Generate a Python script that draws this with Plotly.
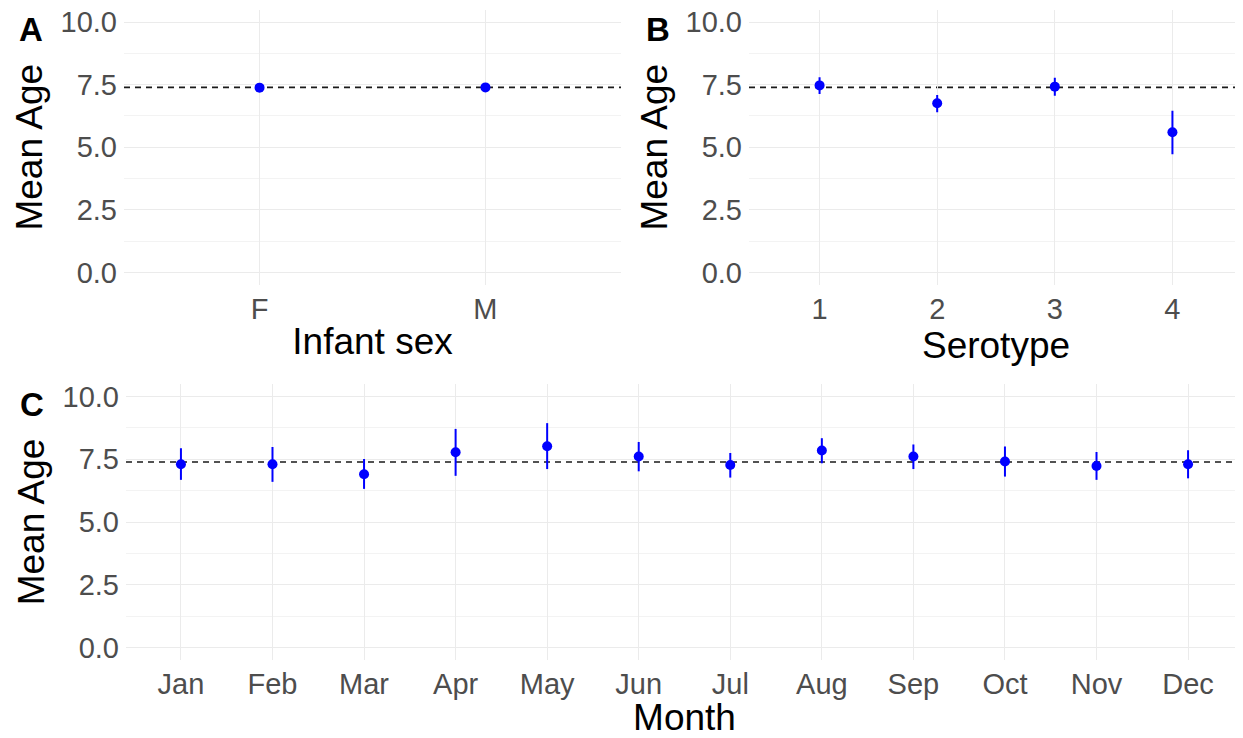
import plotly.graph_objects as go

# overall mean age (dashed reference line)
overall_mean = 7.39

# panel A: infant sex
sex_labels = ['F', 'M']
sex_mean = [7.38, 7.39]
sex_low = [7.34, 7.35]
sex_high = [7.42, 7.43]

# panel B: serotype
sero_labels = ['1', '2', '3', '4']
sero_mean = [7.47, 6.76, 7.42, 5.60]
sero_low = [7.13, 6.40, 7.06, 4.72]
sero_high = [7.79, 7.09, 7.77, 6.46]

# panel C: month
month_labels = ['Jan', 'Feb', 'Mar', 'Apr', 'May', 'Jun',
                'Jul', 'Aug', 'Sep', 'Oct', 'Nov', 'Dec']
month_mean = [7.30, 7.30, 6.90, 7.78, 8.02, 7.61, 7.27, 7.85, 7.61, 7.41, 7.23, 7.30]
month_low = [6.68, 6.60, 6.32, 6.84, 7.11, 7.02, 6.77, 7.34, 7.11, 6.81, 6.68, 6.74]
month_high = [7.94, 7.99, 7.51, 8.71, 8.94, 8.19, 7.75, 8.34, 8.09, 8.01, 7.79, 7.86]

FONT = 'Liberation Sans, Arial, sans-serif'
# page body has an 8px margin, so the figure is drawn 8px in from the corner
OFF = 8
W, H = 1243 - OFF, 738 - OFF

panels = [
    ('x', 'y', sex_labels, sex_mean, sex_low, sex_high),
    ('x2', 'y2', sero_labels, sero_mean, sero_low, sero_high),
    ('x3', 'y3', month_labels, month_mean, month_low, month_high),
]

fig = go.Figure()
for xa, ya, labels, mean, low, high in panels:
    fig.add_trace(go.Scatter(
        x=labels, y=mean, xaxis=xa, yaxis=ya, mode='markers',
        marker=dict(color='#0000FF', size=10),
        error_y=dict(type='data', symmetric=False,
                     array=[h - m for h, m in zip(high, mean)],
                     arrayminus=[m - l for m, l in zip(mean, low)],
                     color='#0000FF', thickness=2, width=0),
        showlegend=False, hoverinfo='skip',
    ))
    # dashed overall mean
    fig.add_shape(type='line', xref=f'{xa} domain', yref=ya,
                  x0=0, x1=1, y0=overall_mean, y1=overall_mean,
                  line=dict(color='#1A1A1A', width=1.6, dash='6px,5px'), layer='below')


def px_x(a, b):
    return [max(a - OFF, 0) / W, min(b - OFF, W) / W]


def px_y(top, bottom):
    return [1 - min(bottom - OFF, H) / H, 1 - max(top - OFF, 0) / H]


tickfont = dict(family=FONT, size=29, color='#4D4D4D')
titlefont = dict(family=FONT, size=37, color='black')

xcommon = dict(type='category', showgrid=True, gridcolor='#EBEBEB', gridwidth=1.2,
               zeroline=False, showline=False, ticks='', tickfont=tickfont,
               ticklabelstandoff=4, ticklabeloverflow='allow', automargin=False)
ycommon = dict(range=[-0.5, 10.5], tickvals=[0, 2.5, 5, 7.5, 10],
               ticktext=['0.0', '2.5', '5.0', '7.5', '10.0'],
               showgrid=True, gridcolor='#EBEBEB', gridwidth=1.2,
               minor=dict(tickvals=[1.25, 3.75, 6.25, 8.75], showgrid=True,
                          gridcolor='#F3F3F3', gridwidth=0.8),
               zeroline=False, showline=False, ticks='', tickfont=tickfont,
               ticklabelstandoff=6, ticklabeloverflow='allow', automargin=False)

fig.update_layout(
    width=W, height=H,
    margin=dict(l=0, r=0, t=0, b=0, autoexpand=False),
    paper_bgcolor='white', plot_bgcolor='white',
    xaxis=dict(xcommon, domain=px_x(124, 621), anchor='y',
               range=[-0.6, len(sex_labels) - 0.4],
               title=dict(text='Infant sex', font=titlefont, standoff=4)),
    yaxis=dict(ycommon, domain=px_y(9.5, 285), anchor='x',
               title=dict(text='Mean Age', font=titlefont, standoff=6)),
    xaxis2=dict(xcommon, domain=px_x(749, 1243), anchor='y2',
                range=[-0.6, len(sero_labels) - 0.4],
                title=dict(text='Serotype', font=titlefont, standoff=4)),
    yaxis2=dict(ycommon, domain=px_y(9.5, 285), anchor='x2',
                title=dict(text='Mean Age', font=titlefont, standoff=6)),
    xaxis3=dict(xcommon, domain=px_x(126, 1243), anchor='y3',
                range=[-0.6, len(month_labels) - 0.4],
                title=dict(text='Month', font=titlefont, standoff=0)),
    yaxis3=dict(ycommon, domain=px_y(384, 660), anchor='x3',
                title=dict(text='Mean Age', font=titlefont, standoff=6)),
)

# panel tags
for tag, x, y in [('A', 31, 30), ('B', 658, 30), ('C', 32, 404)]:
    fig.add_annotation(text=f'<b>{tag}</b>', x=(x - OFF) / W, y=1 - (y - OFF) / H,
                       xref='paper', yref='paper', showarrow=False,
                       xanchor='center', yanchor='middle',
                       font=dict(family=FONT, size=33, color='black'))

fig.write_html('out.html')
